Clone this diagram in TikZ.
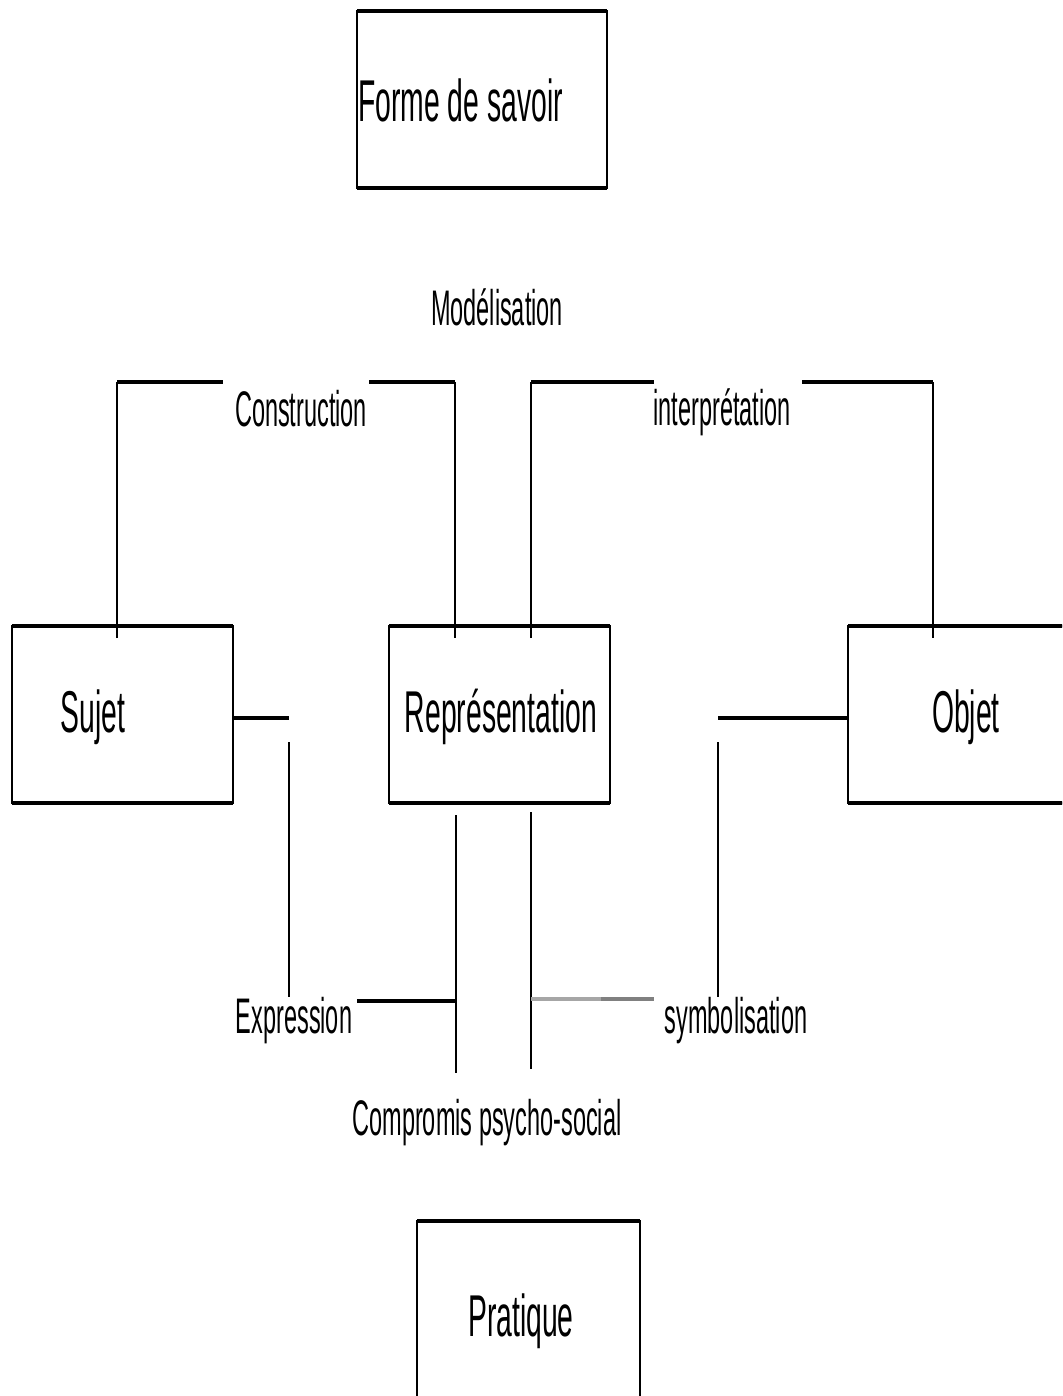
\documentclass[tikz,border=0pt]{standalone}
\usepackage{fontspec}
\newfontfamily\nar[FakeStretch=0.48]{Liberation Sans}
\newfontfamily\narl[FakeStretch=0.47]{Liberation Sans}
\usetikzlibrary{calc}
\begin{document}
\begin{tikzpicture}[x=1pt,y=-1pt,
  box/.style={draw, line width=1.6pt, minimum width=221pt, minimum height=177pt, inner sep=0pt, outer sep=0pt},
  hbar/.style={line width=3.2pt},
  vbar/.style={line width=1.5pt},
  big/.style={font=\nar\fontsize{59}{60}\selectfont, inner sep=0pt},
  lab/.style={font=\narl\fontsize{50}{52}\selectfont, inner sep=0pt}]
\useasboundingbox (0,0) rectangle (1062,1396);
\clip (0,0) rectangle (1062,1396);
\fill[white] (0,0) rectangle (1062,1396);

% boxes
\node[box, minimum width=250pt] (forme) at (482,99.5) {};
\node[box] (sujet) at (122.5,714.5) {};
\node[box] (rep) at (499.5,714.5) {};
\node[box, minimum width=240pt] (objet) at (968,714.5) {};
\node[box, minimum width=223pt, minimum height=190pt] (prat) at (528.5,1316) {};
\foreach \n in {forme,sujet,rep,objet,prat}
  \draw[hbar] (\n.north west) -- (\n.north east) (\n.south west) -- (\n.south east);

% box texts
\node[big, anchor=base west] (formet) at (358,122) {Forme de savoir};
\node[big, anchor=base] (sujett) at (93,732) {Sujet};
\node[big, anchor=base] (rept) at (501,732) {Représentation};
\node[big, anchor=base] (objett) at (966,732) {Objet};
\node[big, anchor=base] (pratt) at (521,1336) {Pratique};

% labels
\node[lab, anchor=base] (model) at (497,326) {Modélisation};
\node[lab, anchor=base] (constr) at (301,426) {Construction};
\node[lab, anchor=base] (interp) at (722,425) {interprétation};
\node[lab, anchor=base] (expr) at (294,1033) {Expression};
\node[lab, anchor=base] (symb) at (736,1033) {symbolisation};
\node[lab, anchor=base] (comp) at (487,1135) {Compromis psycho-social};

% corner / free-end coordinates
\coordinate (cA) at (117,382);
\coordinate (cA2) at (223,382);
\coordinate (cB2) at (369,382);
\coordinate (cB) at (455,382);
\coordinate (cC) at (531,382);
\coordinate (cC2) at (654,382);
\coordinate (cD2) at (802,382);
\coordinate (cD) at (933,382);
\coordinate (sE) at (289,718);
\coordinate (sV1) at (289,742);
\coordinate (sV2) at (289,997);
\coordinate (eH) at (357,1001);
\coordinate (eV1) at (456,815);
\coordinate (eV2) at (456,1073);
\coordinate (gV1) at (531,812);
\coordinate (gV2) at (531,1069);
\coordinate (gM) at (601,999);
\coordinate (gE) at (654,999);
\coordinate (oE) at (718,718);
\coordinate (oV1) at (718,742);
\coordinate (oV2) at (718,997);

% Construction bracket
\draw[vbar] ([xshift=-5.5pt,yshift=-12pt]sujet.north) -- (cA);
\draw[hbar] (cA) -- (cA2);
\draw[hbar] (cB2) -- (cB);
\draw[vbar] (cB) -- ([xshift=-44.5pt,yshift=-12pt]rep.north);

% interpretation bracket
\draw[vbar] ([xshift=31.5pt,yshift=-12pt]rep.north) -- (cC);
\draw[hbar] (cC) -- (cC2);
\draw[hbar] (cD2) -- (cD);
\draw[vbar] (cD) -- ([xshift=-35pt,yshift=-12pt]objet.north);

% Sujet - Expression
\draw[hbar] (sujet.east |- sE) -- (sE);
\draw[vbar] (sV1) -- (sV2);

% Expression / Compromis
\draw[hbar] (eH) -- (eV2 |- eH);
\draw[vbar] (eV1) -- (eV2);
\draw[vbar] (gV1) -- (gV2);
\draw[line width=3.2pt, gray!70] (gV1 |- gM) -- (gM);
\draw[line width=3.2pt, gray] (gM) -- (gE);

% Objet - symbolisation
\draw[hbar] (oE) -- (objet.west |- oE);
\draw[vbar] (oV1) -- (oV2);
\end{tikzpicture}
\end{document}
